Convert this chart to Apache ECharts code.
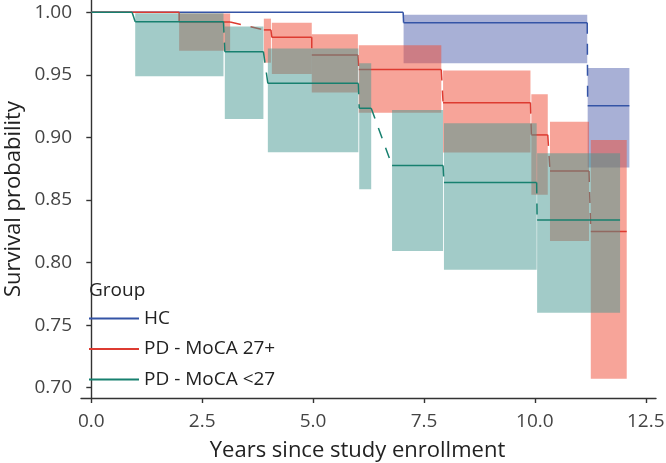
<!DOCTYPE html>
<html><head><meta charset="utf-8">
<script src="https://cdn.jsdelivr.net/npm/echarts@6/dist/echarts.min.js"></script>
<style>html,body{margin:0;padding:0;background:#fff}#c{width:666px;height:463px}</style>
</head><body><div id="c"></div>
<script>
// ---- data ----
const xTicks = [0, 2.5, 5, 7.5, 10, 12.5];
const yTicks = [0.70, 0.75, 0.80, 0.85, 0.90, 0.95, 1.00];
const groupNames = ['HC', 'PD - MoCA 27+', 'PD - MoCA <27'];

const hcStart = [0, 7.04, 11.19];
const hcEnd   = [7.03, 11.18, 12.13];
const hcSurv  = [1.0, 0.9917, 0.9254];
const hcLower = [1.0, 0.9593, 0.8759];
const hcUpper = [1.0, 0.998, 0.9555];

const redStart = [0, 1.98, 3.89, 4.07, 4.97, 6.03, 7.93, 9.92, 10.34, 11.26];
const redEnd   = [1.98, 3.13, 4.05, 4.97, 6.01, 7.89, 9.90, 10.29, 11.22, 12.07];
const redSurv  = [1.0, 0.9923, 0.9859, 0.980, 0.9659, 0.9542, 0.9278, 0.902, 0.8732, 0.8248];
const redLower = [1.0, 0.9693, 0.9597, 0.9507, 0.9358, 0.9198, 0.8879, 0.8541, 0.8173, 0.7071];
const redUpper = [1.0, 0.999, 0.9949, 0.9917, 0.9824, 0.9736, 0.9534, 0.9345, 0.9126, 0.898];

const grnStart = [0, 0.99, 3.01, 3.98, 6.04, 6.78, 7.95, 10.05];
const grnEnd   = [0.92, 2.98, 3.88, 6.02, 6.31, 7.93, 10.04, 11.92];
const grnSurv  = [1.0, 0.9925, 0.9685, 0.9432, 0.9233, 0.8775, 0.8639, 0.834];
const grnLower = [1.0, 0.9489, 0.9147, 0.8882, 0.8586, 0.8093, 0.7942, 0.760];
const grnUpper = [1.0, 0.9992, 0.9886, 0.971, 0.9593, 0.922, 0.9113, 0.8874];

// ---- styling ----
const FONT = 'Open Sans';
const lineColors = ['#3454A6', '#DD3B31', '#17806F'];
const fillColors = ['rgba(81,97,173,0.5)', 'rgba(239,73,51,0.5)', 'rgba(69,151,145,0.5)'];

function rectSeries(name, s, e, lo, up, fill) {
  return {
    type: 'custom', name: name, silent: true,
    data: s.map((v, i) => [v, e[i], lo[i], up[i]]),
    encode: { x: [0, 1], y: [2, 3] },
    renderItem: function (params, api) {
      const p1 = api.coord([api.value(0), api.value(3)]);
      const p2 = api.coord([api.value(1), api.value(2)]);
      return { type: 'rect', shape: { x: p1[0], y: p1[1], width: p2[0] - p1[0], height: p2[1] - p1[1] },
               style: { fill: fill } };
    }
  };
}
function segSeries(name, s, e, sv, color) {
  return {
    type: 'custom', name: name, silent: true,
    itemStyle: { color: color },
    data: s.map((v, i) => [v, e[i], sv[i]]),
    encode: { x: [0, 1], y: 2 },
    renderItem: function (params, api) {
      const p1 = api.coord([api.value(0), api.value(2)]);
      const p2 = api.coord([api.value(1), api.value(2)]);
      return { type: 'line', shape: { x1: p1[0], y1: p1[1], x2: p2[0], y2: p2[1] },
               style: { stroke: color, lineWidth: 1.5 } };
    }
  };
}
function connSeries(name, s, e, sv, color) {
  const d = [];
  for (let i = 0; i < s.length - 1; i++) d.push([e[i], sv[i], s[i + 1], sv[i + 1]]);
  return {
    type: 'custom', name: name, silent: true,
    data: d,
    encode: { x: [0, 2], y: [1, 3] },
    renderItem: function (params, api) {
      const p1 = api.coord([api.value(0), api.value(1)]);
      const p2 = api.coord([api.value(2), api.value(3)]);
      return { type: 'line', shape: { x1: p1[0], y1: p1[1], x2: p2[0], y2: p2[1] },
               style: { stroke: color, lineWidth: 1.5, lineDash: [11, 10] } };
    }
  };
}

const groups = [
  [hcStart, hcEnd, hcSurv, hcLower, hcUpper],
  [redStart, redEnd, redSurv, redLower, redUpper],
  [grnStart, grnEnd, grnSurv, grnLower, grnUpper]
];
const series = [];
groups.forEach((g, k) => {
  series.push(rectSeries(groupNames[k] + ' CI', g[0], g[1], g[3], g[4], fillColors[k]));
  series.push(segSeries(groupNames[k], g[0], g[1], g[2], lineColors[k]));
  series.push(connSeries(groupNames[k] + ' step', g[0], g[1], g[2], lineColors[k]));
});

const chart = echarts.init(document.getElementById('c'), null, { renderer: 'canvas' });
chart.setOption({
  animation: false,
  backgroundColor: '#ffffff',
  textStyle: { fontFamily: FONT },
  grid: { left: 81, right: 10, top: 0, bottom: 65, containLabel: false, outerBoundsMode: 'none' },
  title: {
    text: 'Group', left: 89, top: 281, padding: 0,
    textStyle: { fontFamily: FONT, fontSize: 19, fontWeight: 'normal', color: '#222' }
  },
  legend: {
    orient: 'vertical', left: 89, top: 309, padding: 0,
    itemWidth: 50, itemHeight: 2, itemGap: 11.5, icon: 'rect', selectedMode: false,
    textStyle: { fontFamily: FONT, fontSize: 19, color: '#222', lineHeight: 19 },
    data: groupNames.map((n, k) => ({ name: n, itemStyle: { color: lineColors[k] } }))
  },
  xAxis: {
    type: 'value', min: -0.232, max: 12.73,
    name: 'Years since study enrollment', nameLocation: 'middle', nameGap: 42, nameMoveOverlap: false,
    nameTextStyle: { fontFamily: FONT, fontSize: 22, color: '#222', padding: [0, 22, 0, 0] },
    axisLine: { show: true, lineStyle: { color: '#333', width: 1.4 } },
    axisTick: { show: true, length: 5, customValues: xTicks, lineStyle: { color: '#333', width: 1.4 } },
    axisLabel: { customValues: xTicks, margin: 14, fontFamily: FONT, fontSize: 19, color: '#444',
                 formatter: v => Number(v).toFixed(1) },
    splitLine: { show: false }
  },
  yAxis: {
    type: 'value', min: 0.6918, max: 1.0098,
    name: 'Survival probability', nameLocation: 'middle', nameGap: 56, nameRotate: 90, nameMoveOverlap: false,
    nameTextStyle: { fontFamily: FONT, fontSize: 22, color: '#222' },
    axisLine: { show: true, lineStyle: { color: '#333', width: 1.4 } },
    axisTick: { show: true, length: 5, customValues: yTicks, lineStyle: { color: '#333', width: 1.4 } },
    axisLabel: { customValues: yTicks, margin: 9, fontFamily: FONT, fontSize: 19, color: '#444',
                 formatter: v => Number(v).toFixed(2) },
    splitLine: { show: false }
  },
  series: series
});
</script>
</body></html>
